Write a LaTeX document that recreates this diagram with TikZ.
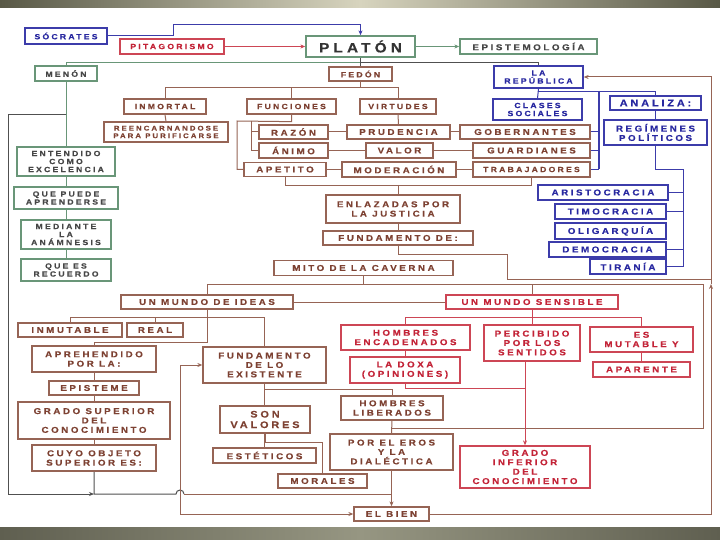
\documentclass[tikz,border=0pt]{standalone}
\usepackage{fontspec}
\usetikzlibrary{arrows.meta}
\newfontfamily\bxf{Liberation Sans Bold}[FakeStretch=1.15,LetterSpace=30,FakeBold=0.3]
\definecolor{cNB}{RGB}{150,100,85}
\definecolor{cNT}{RGB}{125,65,50}
\definecolor{cRB}{RGB}{205,70,85}
\definecolor{cRT}{RGB}{195,35,55}
\definecolor{cBB}{RGB}{60,60,170}
\definecolor{cBT}{RGB}{40,40,160}
\definecolor{cGB}{RGB}{105,150,120}
\definecolor{cGT}{RGB}{70,70,70}
\definecolor{cDK}{RGB}{80,80,80}
\definecolor{cBarA}{RGB}{88,88,70}
\definecolor{cBarB}{RGB}{215,212,190}
\definecolor{cBarC}{RGB}{95,95,80}
\definecolor{cBarD}{RGB}{150,150,130}
\pgfdeclarelayer{bg}
\pgfsetlayers{bg,main}
\tikzset{
  boxbase/.style={draw, fill=white, line width=1.3pt, inner sep=1pt, align=center,
    font=\bxf\fontsize{8.5}{9.4}\selectfont},
  nbox/.style={boxbase, draw=cNB, text=cNT},
  rbox/.style={boxbase, draw=cRB, text=cRT},
  bbox/.style={boxbase, draw=cBB, text=cBT},
  gbox/.style={boxbase, draw=cGB, text=cGT},
  sm/.style={font=\bxf\fontsize{7.5}{8}\selectfont},
  xs/.style={font=\bxf\fontsize{6.8}{7.6}\selectfont},
  sz/.style 2 args={minimum width=#1pt, minimum height=#2pt},
  nl/.style={draw=cNB, line width=1pt},
  rl/.style={draw=cRB, line width=1pt},
  bl/.style={draw=cBB, line width=1pt},
  gl/.style={draw=cGB, line width=1pt},
  dl/.style={draw=cDK, line width=1pt},
  tip/.style={-{Stealth[length=5pt,width=4pt]}},
}
\begin{document}
\begin{tikzpicture}[x=1pt,y=-1pt]
\useasboundingbox (0,0) rectangle (720,540);
% ---------- nodes ----------
\node[bbox,sm,sz={82}{16}] (socrates) at (66,36) {SÓCRATES};
\node[rbox,sm,sz={104}{15}] (pitag) at (172,46.5) {PITAGORISMO};
\node[gbox,font=\bxf\fontsize{13.5}{14}\selectfont,text=black!80,sz={109}{21}] (platon) at (360.5,46.5) {PLATÓN};
\node[gbox,sz={137}{15}] (episte) at (528.5,46.5) {EPISTEMOLOGÍA};
\node[gbox,sm,sz={62}{15}] (menon) at (66,73.5) {MENÓN};
\node[nbox,sm,sz={63}{14}] (fedon) at (360.5,74) {FEDÓN};
\node[bbox,sm,sz={89}{22}] (republica) at (538.5,77) {LA\\REPÚBLICA};
\node[nbox,sm,sz={82}{15}] (inmortal) at (165,106.5) {INMORTAL};
\node[nbox,sm,sz={89}{15}] (funciones) at (291.5,106.5) {FUNCIONES};
\node[nbox,sm,sz={76}{15}] (virtudes) at (398,106.5) {VIRTUDES};
\node[bbox,sm,sz={89}{21}] (clases) at (537.5,109.5) {CLASES\\SOCIALES};
\node[bbox,font=\bxf\fontsize{9.5}{10}\selectfont,sz={91}{14}] (analiza) at (655.5,103) {ANALIZA:};
\node[nbox,xs,sz={124}{20}] (reencarn) at (166,132) {REENCARNANDOSE\\PARA PURIFICARSE};
\node[nbox,sz={69}{14}] (razon) at (293.5,132) {RAZÓN};
\node[nbox,sz={103}{14}] (prudencia) at (398.5,132) {PRUDENCIA};
\node[nbox,sz={130}{14}] (gobern) at (525,132) {GOBERNANTES};
\node[bbox,sz={103}{25}] (regimenes) at (655.5,132.5) {REGÍMENES\\POLÍTICOS};
\node[nbox,sz={69}{15}] (animo) at (293.5,150.5) {ÁNIMO};
\node[nbox,sz={67}{15}] (valor) at (399.5,150.5) {VALOR};
\node[nbox,sz={117}{15}] (guard) at (531.5,150.5) {GUARDIANES};
\node[nbox,sz={82}{14}] (apetito) at (285,169.5) {APETITO};
\node[nbox,sz={114}{15}] (moderacion) at (399,169.5) {MODERACIÓN};
\node[nbox,sm,sz={117}{15}] (trabaj) at (531.5,169.5) {TRABAJADORES};
\node[gbox,sm,sz={98}{29}] (entendido) at (66,161.5) {ENTENDIDO\\COMO\\EXCELENCIA};
\node[gbox,sm,sz={104}{22}] (quepuede) at (66,198) {QUE PUEDE\\APRENDERSE};
\node[gbox,sm,sz={90}{29}] (mediante) at (66,234.5) {MEDIANTE\\LA\\ANÁMNESIS};
\node[gbox,sm,sz={90}{22}] (quees) at (66,270) {QUE ES\\RECUERDO};
\node[bbox,sz={130}{15}] (aristo) at (603,192.5) {ARISTOCRACIA};
\node[bbox,sz={111}{15}] (timo) at (610.5,211.5) {TIMOCRACIA};
\node[bbox,sz={111}{16}] (oligar) at (610.5,231) {OLIGARQUÍA};
\node[bbox,sz={117}{15}] (democ) at (607.5,249.5) {DEMOCRACIA};
\node[bbox,sz={76}{15}] (tirania) at (628,266.5) {TIRANÍA};
\node[nbox,sz={134}{28}] (enlazadas) at (393,209) {ENLAZADAS POR\\LA JUSTICIA};
\node[nbox,sz={150}{14}] (fundde) at (398,238) {FUNDAMENTO DE:};
\node[nbox,sz={179}{15}] (mito) at (363.5,268) {MITO DE LA CAVERNA};
\node[nbox,sz={172}{14}] (ideas) at (207,302) {UN MUNDO DE IDEAS};
\node[rbox,sz={172}{14}] (sensible) at (532,302) {UN MUNDO SENSIBLE};
\node[nbox,sz={104}{14}] (inmutable) at (70,330) {INMUTABLE};
\node[nbox,sz={56}{14}] (real) at (155,330) {REAL};
\node[rbox,sz={129}{25}] (hencad) at (405.5,337.5) {HOMBRES\\ENCADENADOS};
\node[rbox,sz={96}{36}] (percibido) at (532,343) {PERCIBIDO\\POR LOS\\SENTIDOS};
\node[rbox,sz={103}{25}] (esmutable) at (641.5,339.5) {ES\\MUTABLE Y};
\node[nbox,sz={124}{26}] (aprehend) at (94,359) {APREHENDIDO\\POR LA:};
\node[nbox,sz={123}{36}] (fundexist) at (264.5,365) {FUNDAMENTO\\DE LO\\EXISTENTE};
\node[rbox,sz={110}{26}] (doxa) at (405,370) {LA DOXA\\(OPINIONES)};
\node[rbox,sz={97}{15}] (aparente) at (641.5,369.5) {APARENTE};
\node[nbox,sz={90}{14}] (episteme) at (94,388) {EPISTEME};
\node[nbox,sz={102}{24}] (hlib) at (392,408) {HOMBRES\\LIBERADOS};
\node[nbox,sz={152}{37}] (gradosup) at (94,420.5) {GRADO SUPERIOR\\DEL\\CONOCIMIENTO};
\node[nbox,font=\bxf\fontsize{9.5}{10.5}\selectfont,sz={90}{27}] (sonval) at (265,419.5) {SON\\VALORES};
\node[nbox,sz={123}{36}] (poreros) at (391.5,452) {POR EL EROS\\Y LA\\DIALÉCTICA};
\node[rbox,sz={130}{42}] (gradoinf) at (525,467) {GRADO\\INFERIOR\\DEL\\CONOCIMIENTO};
\node[nbox,sz={124}{26}] (cuyo) at (94,458) {CUYO OBJETO\\SUPERIOR ES:};
\node[nbox,sz={103}{15}] (esteticos) at (264.5,455.5) {ESTÉTICOS};
\node[nbox,sz={89}{14}] (morales) at (322.5,481) {MORALES};
\node[nbox,sz={75}{14}] (elbien) at (391.5,514) {EL BIEN};
% ---------- background and connectors ----------
\begin{pgfonlayer}{bg}
\fill[white] (0,0) rectangle (720,540);
\shade[left color=cBarA, right color=cBarA, middle color=cBarB] (0,0) rectangle (720,8);
\shade[left color=cBarC, right color=cBarC, middle color=cBarD] (0,527) rectangle (720,540);
% top
\draw[bl,tip] (socrates.east) -| (173,25) -| (platon.north);
\draw[rl,tip] (pitag.east) -- (platon.west);
\draw[gl,tip] (platon.east) -- (episte.west);
\draw[gl] (platon.south) -- ++(0,5) -| (menon.north);
\draw[dl] (platon.south) ++(0,5) -| (republica.north);
\draw[dl] (platon.south) -- (fedon.north);
% menon column
\draw[gl] (menon.south) -- (quees.north);
\draw[dl,tip] (menon.south |- 0,115) -| (8,494) -- (cuyo.south |- 0,494);
\draw[dl] (cuyo.south) -- (cuyo.south |- 0,494) -- (176,494) arc[start angle=180,end angle=360,radius=4];
\draw[nl] (184,494) -- (poreros.south |- 0,494);
% fedon
\draw[nl] (fedon.south) -- (fedon.south |- 0,88);
\draw[nl] (inmortal.north) -- (inmortal.north |- 0,88) -- (virtudes.north |- 0,88) -- (virtudes.north);
\draw[nl] (funciones.north) -- (funciones.north |- 0,88);
\draw[nl] (inmortal.south) -- (reencarn.north);
\draw[nl] (funciones.south) -- ++(0,7) -- (237,121) -- (237,169.5) -- (apetito.west);
\draw[nl] (251,121) -- (251,150.5) -- (animo.west);
\draw[nl] (251,132) -- (razon.west);
\draw[nl] (virtudes.south) -- (prudencia.north);
\draw[nl] (razon.east) -- (gobern.west);
\draw[nl] (animo.east) -- (guard.west);
\draw[nl] (apetito.east) -- (trabaj.west);
\draw[nl] (apetito.south) -- ++(0,8.5) -| (trabaj.south);
\draw[nl] (fundde.north |- 0,185) -- (fundde.north);
\draw[nl] (fundde.south) -- ++(0,9) -| (507,279) -- (711,279);
\draw[nl] (mito.south) -- (mito.south |- 0,284);
\draw[nl] (ideas.north) -- (ideas.north |- 0,284) -- (703,284) -- (703,428) -- (hlib.south |- 0,428);
\draw[nl] (sensible.north |- 0,284) -- (sensible.north);
\draw[nl] (ideas.east) -- (sensible.west);
% ideas
\draw[nl] (ideas.south) -- (ideas.south |- 0,342) -| (aprehend.north);
\draw[nl] (inmutable.north) -- (inmutable.north |- 0,317) -- (fundexist.north |- 0,317) -- (fundexist.north);
\draw[nl] (real.north) -- (real.north |- 0,317);
\draw[nl] (aprehend.south) -- (cuyo.north);
\draw[nl] (fundexist.south) -- (esteticos.north);
\draw[nl] (fundexist.south) -- ++(0,6) -| (hlib.north);
\draw[nl] (sonval.south) -- ++(0,9) -| (morales.north);
\draw[nl,{Stealth[length=5pt,width=4pt]}-{Stealth[length=5pt,width=4pt]}] (fundexist.west) -| (180,514) -- (elbien.west);
\draw[nl] (hlib.south) -- (poreros.north);
\draw[nl,tip] (poreros.south) -- (elbien.north);
\draw[nl,tip] (elbien.east) -| (711,284);
\draw[nl,tip] (711,284) |- (republica.east);
% sensible
\draw[rl] (sensible.south) -- (sensible.south |- 0,317);
\draw[rl] (hencad.north |- 0,317) -- (esmutable.north |- 0,317) -- (esmutable.north);
\draw[rl] (hencad.north |- 0,317) -- (hencad.north |- 0,388) -- (gradoinf.north |- 0,388);
\draw[rl] (percibido.north |- 0,317) -- (percibido.north);
\draw[rl,tip] (gradoinf.north |- percibido.south) -- (gradoinf.north);
\draw[rl] (esmutable.south) -- (aparente.north);
% republica
\draw[bl] (republica.south) -- (clases.north);
\draw[bl] (republica.south) -- ++(0,3) -| (analiza.north);
\draw[bl,line width=2pt] (599,91) -- (599,169.5);
\draw[bl] (gobern.east) -- (599,132);
\draw[bl] (guard.east) -- (599,150.5);
\draw[bl] (trabaj.east) -- (599,169.5);
\draw[bl] (analiza.south) -- (regimenes.north);
\draw[bl] (regimenes.south) -- ++(0,24) -| (683,266.5) -- (tirania.east);
\draw[bl] (aristo.east) -- (683,192.5);
\draw[bl] (timo.east) -- (683,211.5);
\draw[bl] (democ.east) -- (683,249.5);
\end{pgfonlayer}
\end{tikzpicture}
\end{document}
